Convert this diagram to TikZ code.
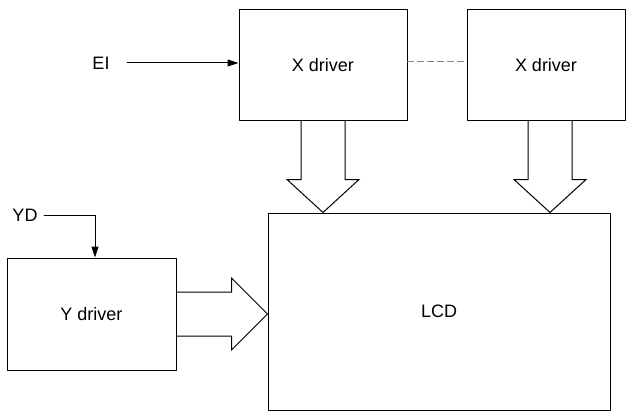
\documentclass[tikz,border=0pt]{standalone}
\usepackage{fontspec}
\setmainfont{Liberation Sans}
\usetikzlibrary{arrows.meta,calc}

\tikzset{
  drvbox/.style={draw,inner sep=0pt},
  lbl/.style={inner sep=6pt},
}

\begin{document}
\begin{tikzpicture}[line cap=round,line join=round,>={Triangle[length=11pt,width=7pt]},x=1pt,y=1pt,line width=1pt,font=\fontsize{18}{20}\selectfont]
\useasboundingbox (0,0) rectangle (626,416);
% driver boxes and display
\node[drvbox,minimum width=168,minimum height=110] (xa) at (323,351) {X driver};
\node[drvbox,minimum width=158,minimum height=110] (xb) at (546,351) {X driver};
\node[drvbox,minimum width=342,minimum height=197] (lcd) at (439,104.5) {LCD};
\node[drvbox,minimum width=169,minimum height=112] (yd) at (91.5,102) {Y driver};
% inputs
\node[lbl] (ei) at (101,353) {EI};
\node[lbl] (ydin) at (25,201) {YD};
\draw[->] ($(ei.east)+(11,0)$) -- (ei.east -| xa.west);
\draw[->] (ydin.east) -| ($(yd.north)+(3.5,0)$);
\draw[dashed,gray,dash pattern=on 6pt off 4pt] ($(xa.east)+(0,3)$) -- ($(xb.west)+(0,3)$);
% bus arrows
\foreach \d/\s in {xa/0,xb/4}
  \draw[line join=miter] ($(\d.south)+(\s-22,0)$) -- ++(0,-59) -- ++(-14,0) -- ($(\d.south |- lcd.north)+(\s,0)$)
    -- ($(\d.south)+(\s+36,-59)$) -- ++(-14,0) -- ++(0,59);
\draw[line join=miter] ($(yd.east)+(0,22)$) -- ++(55,0) -- ++(0,14) -- (yd.east -| lcd.west)
  -- ($(yd.east)+(55,-36)$) -- ++(0,14) -- ++(-55,0);
\end{tikzpicture}
\end{document}
